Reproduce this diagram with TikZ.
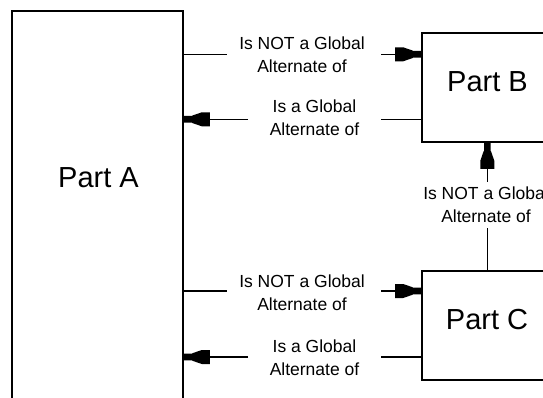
\documentclass[tikz,border=0pt]{standalone}
\usepackage{fontspec}
\setmainfont{Liberation Sans}
\usetikzlibrary{arrows.meta}
\pgfdeclarearrow{
  name = Plug,
  setup code = {
    \pgfarrowssettipend{0pt}
    \pgfarrowssetlineend{-22pt}
    \pgfarrowssetbackend{-26pt}
    \pgfarrowsupperhullpoint{0pt}{3.3pt}
    \pgfarrowsupperhullpoint{-26pt}{7pt}
  },
  drawing code = {
    \pgfpathmoveto{\pgfqpoint{0pt}{3.3pt}}
    \pgfpathlineto{\pgfqpoint{-8pt}{3.3pt}}
    \pgfpathlineto{\pgfqpoint{-9pt}{3.9pt}}
    \pgfpathlineto{\pgfqpoint{-18pt}{7pt}}
    \pgfpathlineto{\pgfqpoint{-26pt}{7pt}}
    \pgfpathlineto{\pgfqpoint{-26pt}{-7pt}}
    \pgfpathlineto{\pgfqpoint{-18pt}{-7pt}}
    \pgfpathlineto{\pgfqpoint{-9pt}{-3.9pt}}
    \pgfpathlineto{\pgfqpoint{-8pt}{-3.3pt}}
    \pgfpathlineto{\pgfqpoint{0pt}{-3.3pt}}
    \pgfpathclose
    \pgfusepathqfill
  },
  defaults = {}
}
\tikzset{
  partbox/.style={draw=black,line width=1.6pt,fill=white,inner sep=0pt,rectangle},
  parttext/.style={font=\fontsize{29}{34}\selectfont,inner sep=0pt},
  reltext/.style={font=\fontsize{17.5}{22.7}\selectfont,align=center,inner sep=0pt},
  conn/.style={line width=1.3pt,draw=black},
  tipd/.style={-{Plug}},
}
\begin{document}
\begin{tikzpicture}[x=1pt,y=-1pt]
\clip (0,0) rectangle (543,398);
\fill[white] (0,0) rectangle (543,398);
% boxes
\node[partbox,minimum width=171pt,minimum height=440pt] (A) at (97.5,231) {};
\node[partbox,minimum width=132pt,minimum height=109pt] (B) at (488,87.5) {};
\node[partbox,minimum width=132pt,minimum height=109pt] (C) at (488,325.5) {};
\node[parttext] (tA) at (98.5,178) {Part A};
\node[parttext] (tB) at (487.5,81.7) {Part B};
\node[parttext] (tC) at (487,320) {Part C};
% labels
\node[reltext] (l1) at (302,54.5) {Is NOT a Global\\Alternate of};
\node[reltext] (l2) at (314.5,118) {Is a Global\\Alternate of};
\node[reltext] (l3) at (302,292.5) {Is NOT a Global\\Alternate of};
\node[reltext] (l4) at (314.5,357.5) {Is a Global\\Alternate of};
\node[reltext] (l5) at (486,204.5) {Is NOT a Global\\Alternate of};
% gap ends
\coordinate (g1a) at (227,54.3);  \coordinate (g1b) at (381,54.3);
\coordinate (g2a) at (248,119.3); \coordinate (g2b) at (381,119.3);
\coordinate (g3a) at (227,291);   \coordinate (g3b) at (381,291);
\coordinate (g4a) at (248,357);   \coordinate (g4b) at (381,357);
\coordinate (g5a) at (487.3,228); \coordinate (g5b) at (487.3,182);
% connectors
\draw[conn] (A.east |- g1a) -- (g1a);
\draw[conn,tipd] (g1b) -- (B.west |- g1b);
\draw[conn] (B.west |- g2b) -- (g2b);
\draw[conn,tipd] (g2a) -- (A.east |- g2a);
\draw[conn] (A.east |- g3a) -- (g3a);
\draw[conn,tipd] (g3b) -- (C.west |- g3b);
\draw[conn] (C.west |- g4b) -- (g4b);
\draw[conn,tipd] (g4a) -- (A.east |- g4a);
\draw[conn] (C.north -| g5a) -- (g5a);
\draw[conn,tipd] (g5b) -- (B.south -| g5b);
\end{tikzpicture}
\end{document}
